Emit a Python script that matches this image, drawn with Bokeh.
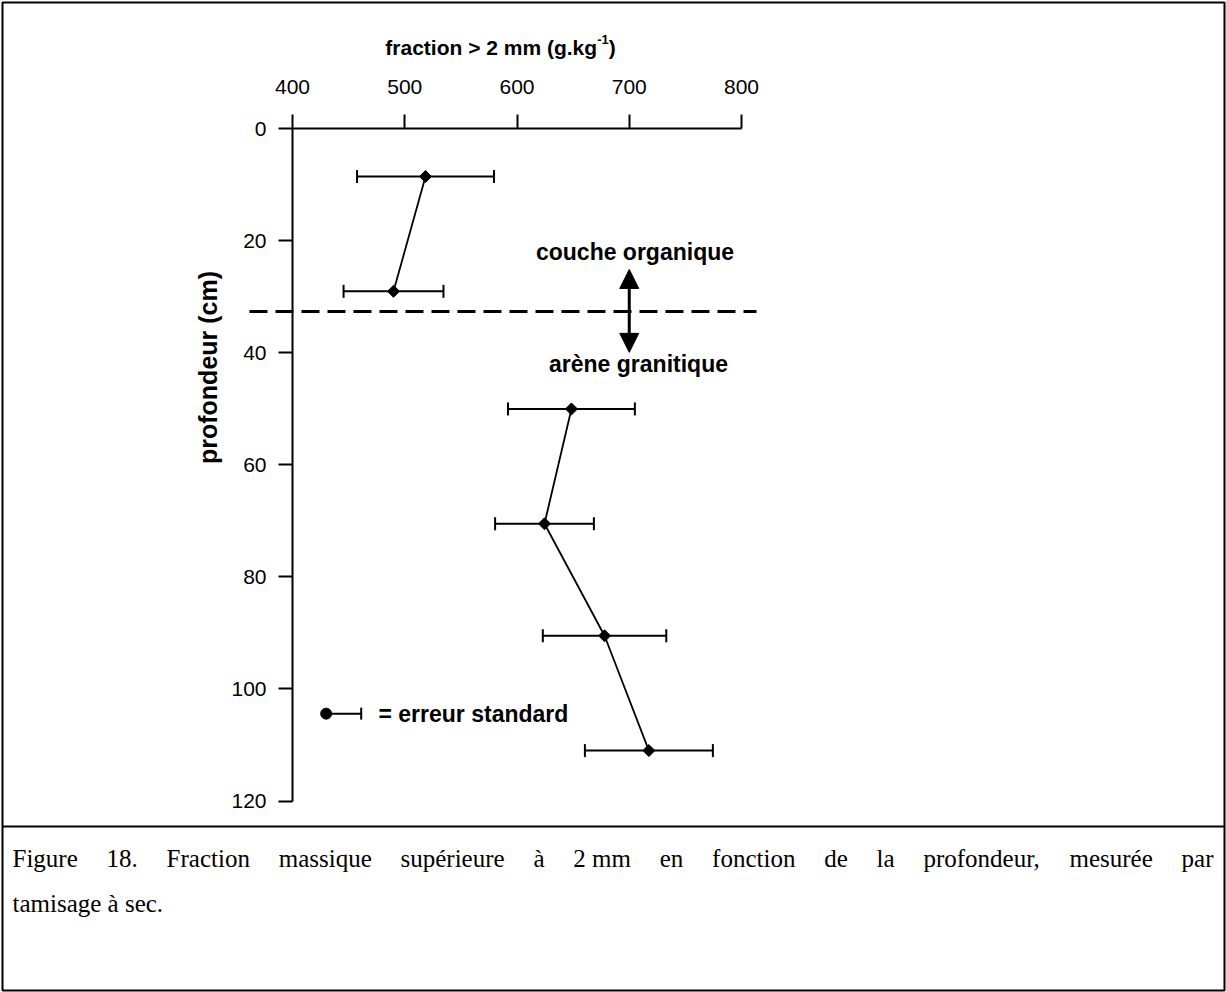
import math
from bokeh.plotting import figure
from bokeh.models import (LinearAxis, FixedTicker, Range1d, ColumnDataSource, Whisker,
                          TeeHead, Arrow, NormalHead, Span)
from bokeh.core.properties import value
from bokeh.embed import file_html
from bokeh.resources import INLINE

# ---------------- data ----------------
depth_upper = [8.5, 29.0]            # cm
frac_upper = [518.5, 490.0]          # g/kg
se_upper = [61.0, 44.5]
depth_lower = [50.0, 70.5, 90.5, 111.0]
frac_lower = [648.5, 624.5, 678.0, 717.5]
se_lower = [56.5, 44.0, 55.0, 57.0]
x_ticks = [400, 500, 600, 700, 800]
y_ticks = [0, 20, 40, 60, 80, 100, 120]
boundary_depth = 32.6
arrow_x = 700
arrow_top, arrow_bottom = 25.1, 39.9
legend_depth = 104.4
legend_x = [430.0, 461.2]

x_title = "fraction > 2 mm (g.kg"
x_title_sup = "-1"
x_title_end = ")"
y_title = "profondeur (cm)"
label_top = "couche organique"
label_bottom = "arène granitique"
legend_text = "= erreur standard"
caption_line1 = ["Figure", "18.", "Fraction", "massique", "supérieure", "à", "2 mm", "en",
                 "fonction", "de", "la", "profondeur,", "mesurée", "par"]
caption_line2 = "tamisage à sec."

# ---------------- layout ----------------
W, H, B = 1226, 992, 2
KX = 449.0 / 400.0            # px per g/kg
KY = (800.5 - 128.4) / 120.0  # px per cm
XS = 400 - (292 - B) / KX
XE = XS + (W - 2 * B) / KX
YT = 0 - (128.4 - B) / KY
YB = YT + (H - 2 * B) / KY


def dx(px):
    return XS + (px - B) / KX


def dy(py):
    return YT + (py - B) / KY


SANS = value("Liberation Sans")
SERIF = value("Liberation Serif")

p = figure(width=W, height=H, x_range=Range1d(XS, XE), y_range=Range1d(YB, YT),
           x_axis_location=None, y_axis_location=None,
           min_border_left=B, min_border_right=B, min_border_top=B, min_border_bottom=B,
           output_backend="svg", toolbar_location=None,
           outline_line_color="black", outline_line_width=2,
           background_fill_color="white", border_fill_color="white")
p.xgrid.visible = False
p.ygrid.visible = False

xa = LinearAxis(ticker=FixedTicker(ticks=x_ticks), bounds=(400, 800), fixed_location=0,
                axis_line_width=2, major_tick_line_width=2, major_tick_out=14, major_tick_in=0,
                minor_tick_out=0, minor_tick_in=0, major_label_standoff=21,
                major_label_text_font="Liberation Sans", major_label_text_font_size="21px",
                major_label_text_color="black")
ya = LinearAxis(ticker=FixedTicker(ticks=y_ticks), bounds=(0, 120), fixed_location=400,
                axis_line_width=2, major_tick_line_width=2, major_tick_out=14, major_tick_in=0,
                minor_tick_out=0, minor_tick_in=0, major_label_standoff=12,
                major_label_text_font="Liberation Sans", major_label_text_font_size="21px",
                major_label_text_color="black")
p.add_layout(xa, "above")
p.add_layout(ya, "left")

# boundary dashed line
p.line(x=[dx(249), dx(756)], y=[boundary_depth, boundary_depth], line_color="black",
       line_width=3, line_dash="18 8")

# error bars
for d, f, s in ((depth_upper, frac_upper, se_upper), (depth_lower, frac_lower, se_lower)):
    src = ColumnDataSource(dict(depth=d, frac=f,
                                lo=[a - b for a, b in zip(f, s)],
                                hi=[a + b for a, b in zip(f, s)]))
    p.add_layout(Whisker(source=src, base="depth", lower="lo", upper="hi", dimension="width",
                         line_color="black", line_width=2,
                         lower_head=TeeHead(size=13, line_width=2, line_color="black"),
                         upper_head=TeeHead(size=13, line_width=2, line_color="black")))
    p.line(x="frac", y="depth", source=src, line_color="black", line_width=1.8)
    p.scatter(x="frac", y="depth", source=src, marker="square", angle=math.pi / 4, size=8.5,
              fill_color="black", line_color="black", line_width=1)

# double arrow
p.add_layout(Arrow(x_start=arrow_x, y_start=arrow_top, x_end=arrow_x, y_end=arrow_bottom,
                   line_width=3, line_color="black",
                   start=NormalHead(size=19, fill_color="black", line_color="black", line_width=1),
                   end=NormalHead(size=19, fill_color="black", line_color="black", line_width=1)))
p.text(x=[dx(634.5), dx(638)], y=[dy(251), dy(363)], text=[label_top, label_bottom],
       text_font=SANS, text_font_style="bold", text_font_size="23px",
       text_align="center", text_baseline="middle", text_color="black")

# legend
lsrc = ColumnDataSource(dict(depth=[legend_depth], lo=[legend_x[0]], hi=[legend_x[1]]))
p.add_layout(Whisker(source=lsrc, base="depth", lower="lo", upper="hi", dimension="width",
                     line_color="black", line_width=2, lower_head=None,
                     upper_head=TeeHead(size=12, line_width=2, line_color="black")))
p.scatter(x=[legend_x[0]], y=[legend_depth], marker="circle", size=11,
          fill_color="black", line_color="black")
p.text(x=[dx(378)], y=[legend_depth], text=[legend_text], text_font=SANS,
       text_font_style="bold", text_font_size="23px", text_align="left",
       text_baseline="middle", text_color="black")

# axis titles
SANSB = {'f': 333, 'r': 389, 'a': 556, 'c': 556, 't': 333, 'i': 278, 'o': 611, 'n': 611,
         ' ': 278, '>': 584, '2': 556, 'm': 889, '(': 333, 'g': 611, '.': 278, 'k': 556,
         '-': 333, '1': 556, ')': 333}
TS, SS = 21, 13
w_main = sum(SANSB[c] for c in x_title) / 1000 * TS
w_sup = sum(SANSB[c] for c in x_title_sup) / 1000 * SS
w_end = sum(SANSB[c] for c in x_title_end) / 1000 * TS
x0 = 500 - (w_main + w_sup + w_end) / 2
base = 47
p.text(x=[dx(x0), dx(x0 + w_main + w_sup)], y=[dy(base), dy(base)],
       text=[x_title, x_title_end], text_font=SANS, text_font_style="bold",
       text_font_size=f"{TS}px", text_align="left", text_baseline="alphabetic",
       text_color="black")
p.text(x=[dx(x0 + w_main)], y=[dy(base - 8)], text=[x_title_sup], text_font=SANS,
       text_font_style="bold", text_font_size=f"{SS}px", text_align="left",
       text_baseline="alphabetic", text_color="black")
p.text(x=[dx(207)], y=[dy(367)], text=[y_title], angle=math.pi / 2, text_font=SANS,
       text_font_style="bold", text_font_size="25px", text_align="center",
       text_baseline="middle", text_color="black")

# caption
p.add_layout(Span(location=dy(826), dimension="width", line_color="black", line_width=2))
TIMES = {' ': 250, '.': 250, ',': 250, '1': 500, '2': 500, '8': 500, 'F': 556, 'a': 444,
         'c': 444, 'd': 500, 'e': 444, 'f': 333, 'g': 500, 'i': 278, 'l': 278, 'm': 778,
         'n': 500, 'o': 500, 'p': 500, 'q': 500, 'r': 333, 's': 389, 't': 278, 'u': 500,
         'é': 444, 'à': 444}
CS = 25
cx0, cx1 = 12, 1213
widths = [sum(TIMES[c] for c in w) / 1000 * CS for w in caption_line1]
gap = (cx1 - cx0 - sum(widths)) / (len(caption_line1) - 1)
xs, cur = [], cx0
for wd in widths:
    xs.append(dx(cur))
    cur += wd + gap
p.text(x=xs, y=[dy(858)] * len(xs), text=caption_line1, text_font=SERIF,
       text_font_size=f"{CS}px", text_align="left", text_baseline="middle", text_color="black")
p.text(x=[dx(cx0)], y=[dy(903)], text=[caption_line2], text_font=SERIF,
       text_font_size=f"{CS}px", text_align="left", text_baseline="middle", text_color="black")

open("out.html", "w").write(file_html(p, INLINE))
